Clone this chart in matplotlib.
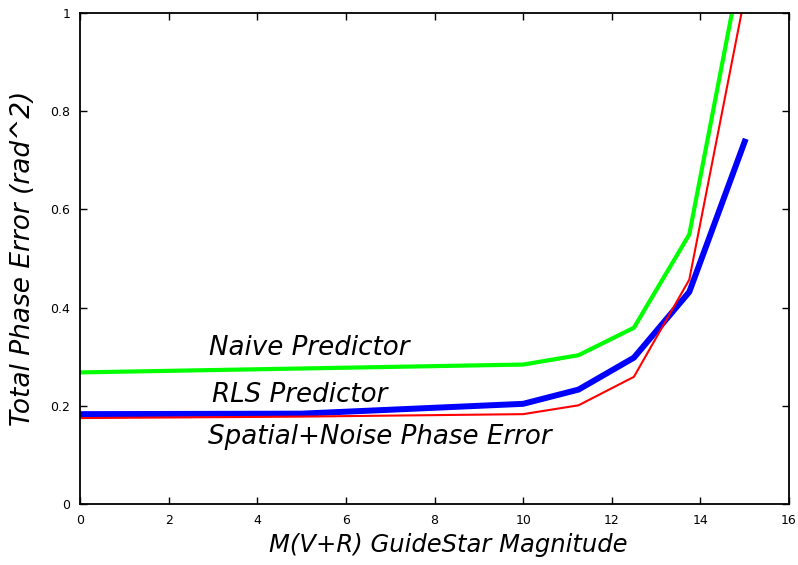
import matplotlib
matplotlib.use('Agg')
from matplotlib import pyplot as plt

# guide star magnitude where each curve was evaluated
magnitude = [0, 5, 10, 11.25, 12.5, 13.75, 15]

naive_err = [0.268, 0.276, 0.284, 0.303, 0.359, 0.549, 1.135]
rls_err = [0.183, 0.184, 0.204, 0.233, 0.298, 0.432, 0.738]
spatial_noise_err = [0.175, 0.178, 0.183, 0.201, 0.259, 0.457, 1.033]

label_names = ['Naive Predictor', 'RLS Predictor', 'Spatial+Noise Phase Error']
label_x = [2.9, 2.98, 2.89]
label_y = [0.317, 0.222, 0.136]

x_ticks = [0, 2, 4, 6, 8, 10, 12, 14, 16]
y_ticks = [0, 0.2, 0.4, 0.6, 0.8, 1]
y_tick_labels = ['0', '0.2', '0.4', '0.6', '0.8', '1']


if __name__ == '__main__':
    fig = plt.figure(figsize=(7.98, 5.65), dpi=100)
    ax = fig.add_axes([80 / 798, 61 / 565, 709 / 798, 491 / 565])

    ax.plot(magnitude, naive_err, color='#00ff00', lw=3.0, solid_joinstyle='miter')
    ax.plot(magnitude, rls_err, color='#0000ff', lw=4.3, solid_joinstyle='miter')
    ax.plot(magnitude, spatial_noise_err, color='#ff0000', lw=1.5, solid_joinstyle='miter')

    for name, tx, ty in zip(label_names, label_x, label_y):
        ax.text(tx, ty, name, fontsize=18.8, style='italic', va='center', ha='left')

    ax.set_xlim(0, 16)
    ax.set_ylim(0, 1)
    ax.set_xticks(x_ticks)
    ax.set_yticks(y_ticks)
    ax.set_yticklabels(y_tick_labels)
    ax.tick_params(direction='in', length=5, width=1, labelsize=9,
                   top=True, right=True, pad=7)
    for s in ax.spines.values():
        s.set_linewidth(1.3)

    ax.set_xlabel('M(V+R) GuideStar Magnitude', fontsize=17.5, style='italic')
    ax.xaxis.set_label_coords(0.52, -0.06, transform=ax.transAxes)
    ax.xaxis.label.set_va('top')
    ax.set_ylabel('Total Phase Error (rad^2)', fontsize=19, style='italic', labelpad=10)

    fig.savefig('out.png', dpi=100)
